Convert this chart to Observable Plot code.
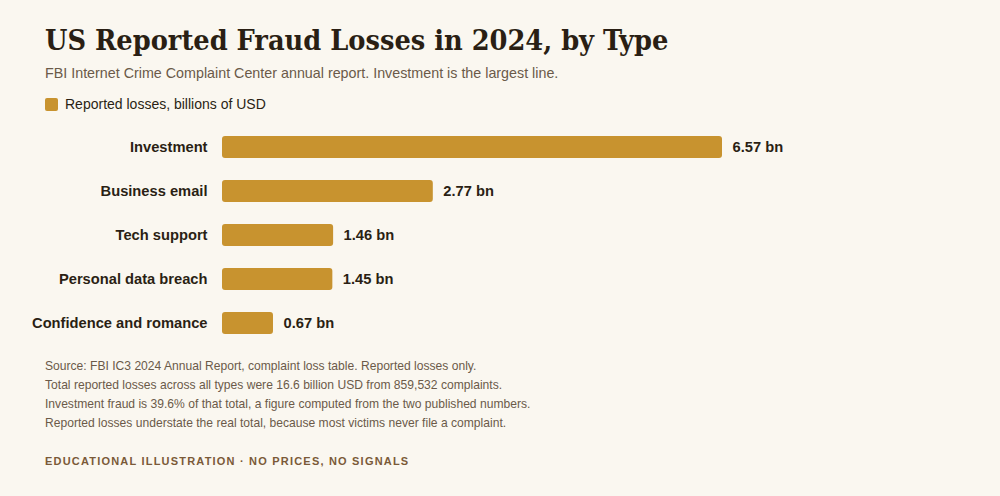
<!DOCTYPE html>
<html>
<head>
<meta charset="utf-8">
<script src="https://cdn.jsdelivr.net/npm/d3@7"></script>
<script src="https://cdn.jsdelivr.net/npm/@observablehq/plot@0.6"></script>
<style>
  html, body { margin: 0; padding: 0; background: #faf7f0; width: 1000px; height: 496px; overflow: hidden; }
  body { position: relative; font-family: "Liberation Sans", Arial, sans-serif; }
  .abs { position: absolute; left: 45px; white-space: nowrap; }
  #title { top: 22px; font-family: "DejaVu Serif", Georgia, serif; font-stretch: condensed; font-weight: bold; font-size: 28.6px; line-height: 36px; color: #2a1f14; margin: 0; }
  #subtitle { top: 64px; font-size: 14.3px; line-height: 18px; color: #6b5a49; }
  #legend { top: 95px; font-size: 14px; line-height: 18px; color: #2a1f14; display: flex; align-items: center; }
  #legend .sw { width: 13px; height: 13px; background: #c8932f; border-radius: 2px; margin-right: 7px; }
  #chart { position: absolute; left: 0; top: 124px; }
  #notes { top: 357px; font-size: 12.1px; line-height: 19px; color: #6b5a49; }
  #footer { top: 454px; font-size: 11px; line-height: 14px; font-weight: bold; letter-spacing: 1.2px; color: #7a5a38; }
</style>
</head>
<body>
<h1 id="title" class="abs">US Reported Fraud Losses in 2024, by Type</h1>
<div id="subtitle" class="abs">FBI Internet Crime Complaint Center annual report. Investment is the largest line.</div>
<div id="legend" class="abs"><span class="sw"></span><span>Reported losses, billions of USD</span></div>
<div id="chart"></div>
<div id="notes" class="abs">
Source: FBI IC3 2024 Annual Report, complaint loss table. Reported losses only.<br>
Total reported losses across all types were 16.6 billion USD from 859,532 complaints.<br>
Investment fraud is 39.6% of that total, a figure computed from the two published numbers.<br>
Reported losses understate the real total, because most victims never file a complaint.
</div>
<div id="footer" class="abs">EDUCATIONAL ILLUSTRATION · NO PRICES, NO SIGNALS</div>
<script>
const categories = ["Investment", "Business email", "Tech support", "Personal data breach", "Confidence and romance"];
const losses = [6.57, 2.77, 1.46, 1.45, 0.67];
const valueLabels = ["6.57 bn", "2.77 bn", "1.46 bn", "1.45 bn", "0.67 bn"];

const data = categories.map((c, i) => ({category: c, value: losses[i], label: valueLabels[i]}));

const chart = Plot.plot({
  width: 1000,
  height: 222,
  marginLeft: 222,
  marginRight: 278,
  marginTop: 0,
  marginBottom: 0,
  style: {background: "transparent", fontFamily: "Liberation Sans, Arial, sans-serif"},
  x: {domain: [0, 6.57], axis: null},
  y: {domain: categories, paddingInner: 0.5, paddingOuter: 0.25, align: 0.5},
  marks: [
    Plot.barX(data, {x: "value", y: "category", fill: "#c8932f", rx: 3}),
    Plot.text(data, {x: "value", y: "category", text: "label", dx: 10, textAnchor: "start", fontSize: 14.7, fontWeight: "bold", fill: "#2a1f14"}),
    Plot.axisY({tickSize: 0, tickPadding: 15, fontSize: 14.7, fontWeight: "bold", color: "#2a1f14", label: null})
  ]
});
document.getElementById("chart").appendChild(chart);
</script>
</body>
</html>
